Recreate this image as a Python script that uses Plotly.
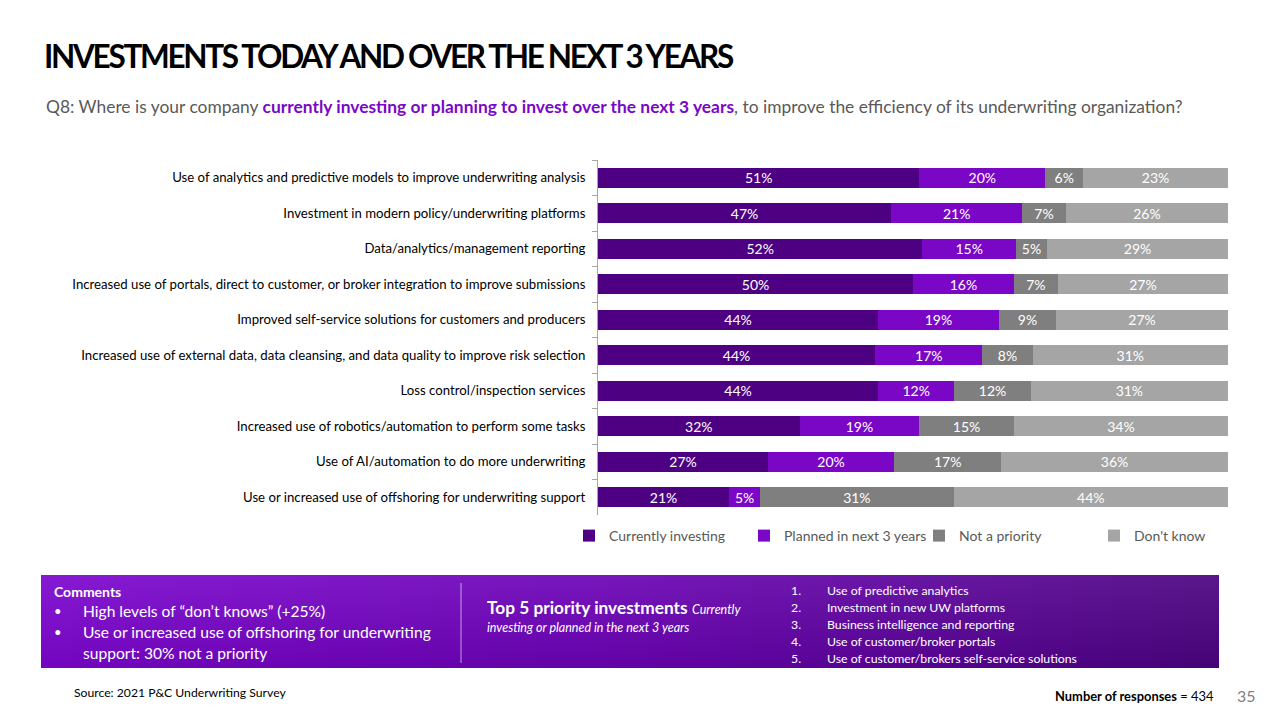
import base64
import plotly.graph_objects as go

categories = [
    "Use of analytics and predictive models to improve underwriting analysis",
    "Investment in modern policy/underwriting platforms",
    "Data/analytics/management reporting",
    "Increased use of portals, direct to customer, or broker integration to improve submissions",
    "Improved self-service solutions for customers and producers",
    "Increased use of external data, data cleansing, and data quality to improve risk selection",
    "Loss control/inspection services",
    "Increased use of robotics/automation to perform some tasks",
    "Use of AI/automation to do more underwriting",
    "Use or increased use of offshoring for underwriting support",
]
currently_investing = [51, 47, 52, 50, 44, 44, 44, 32, 27, 21]
planned_3_years = [20, 21, 15, 16, 19, 17, 12, 19, 20, 5]
not_a_priority = [6, 7, 5, 7, 9, 8, 12, 15, 17, 31]
dont_know = [23, 26, 29, 27, 27, 31, 31, 34, 36, 44]

series = [
    ("Currently investing", currently_investing, "#4d0182"),
    ("Planned in next 3 years", planned_3_years, "#7a07c6"),
    ("Not a priority", not_a_priority, "#7f7f7f"),
    ("Don't know", dont_know, "#a5a5a5"),
]

top5 = [
    "Use of predictive analytics",
    "Investment in new UW platforms",
    "Business intelligence and reporting",
    "Use of customer/broker portals",
    "Use of customer/brokers self-service solutions",
]

TITLE = "INVESTMENTS TODAY AND OVER THE NEXT 3 YEARS"

FONT = "Lato"
# page body has an 8px margin, so the figure is drawn from (8, 8)
OX, OY = 8, 8
W, H = 1272, 712
L, R, T, B = 590, 52, 152, 205
PW, PH = W - L - R, H - T - B


def px(x):
    return (x - OX - L) / PW


def py(y):
    return (H - B - (y - OY)) / PH


fig = go.Figure()
for name, vals, col in series:
    fig.add_trace(go.Bar(
        y=categories, x=vals, name=name, orientation="h",
        marker=dict(color=col, line=dict(width=0)),
        text=[f"{v}%" for v in vals], textposition="inside",
        insidetextanchor="middle", textangle=0, constraintext="none",
        textfont=dict(family=FONT, size=14, color="white"),
    ))

fig.update_layout(
    width=W, height=H, barmode="stack", barnorm="percent", bargap=0.45,
    plot_bgcolor="white", paper_bgcolor="white",
    margin=dict(l=L, r=R, t=T, b=B),
    font=dict(family=FONT, color="#000000"),
    xaxis=dict(visible=False, range=[0, 100]),
    yaxis=dict(autorange="reversed", showline=True, linecolor="#a6a6a6",
               ticks="outside", tickson="boundaries", ticklen=5,
               tickcolor="#a6a6a6", tickfont=dict(size=13.2, color="#000000"),
               ticklabelstandoff=9),
    legend=dict(orientation="h", x=px(569), y=py(536), xanchor="left",
                yanchor="middle", font=dict(size=14, color="#595959"),
                entrywidth=130, traceorder="normal", itemwidth=30),
    showlegend=True,
)

# gradient panel behind comments
svg = ('<svg xmlns="http://www.w3.org/2000/svg" width="1178" height="93" '
       'preserveAspectRatio="none"><defs><linearGradient id="g" x1="0" y1="0" x2="1" y2="0">'
       '<stop offset="0" stop-color="#7c06cf"/><stop offset="0.5" stop-color="#6a02b4"/>'
       '<stop offset="1" stop-color="#4b0380"/></linearGradient>'
       '<linearGradient id="v" x1="0" y1="0" x2="0" y2="1">'
       '<stop offset="0" stop-color="#ffffff" stop-opacity="0.08"/>'
       '<stop offset="1" stop-color="#000000" stop-opacity="0.08"/></linearGradient></defs>'
       '<rect width="1178" height="93" fill="url(#g)"/>'
       '<rect width="1178" height="93" fill="url(#v)"/></svg>')
src = "data:image/svg+xml;base64," + base64.b64encode(svg.encode()).decode()
fig.add_layout_image(dict(source=src, xref="paper", yref="paper",
                          x=px(41), y=py(575), sizex=px(1219) - px(41),
                          sizey=py(575) - py(668), sizing="stretch",
                          xanchor="left", yanchor="top", layer="below"))
fig.add_shape(type="line", xref="paper", yref="paper",
              x0=px(461), x1=px(461), y0=py(583), y1=py(663),
              line=dict(color="rgba(255,255,255,0.6)", width=1))

ann = []


def note(x, y, text, size, color="#000000", xanchor="left", yanchor="middle", family=FONT):
    ann.append(dict(xref="paper", yref="paper", x=px(x), y=py(y), text=text,
                    showarrow=False, xanchor=xanchor, yanchor=yanchor,
                    font=dict(family=family, size=size, color=color), align="left"))


# tight, condensed-looking title
note(42, 56, f"<span style='letter-spacing:-2.3px'><b>{TITLE}</b></span>", 31.5, "#000000")
note(44, 106, "Q8: Where is your company <b><span style='color:#7a07c6'>currently investing or "
     "planning to invest over the next 3 years</span></b>, to improve the efficiency of its "
     "underwriting organization?", 17.4, "#595959")

note(52, 591, "<b>Comments</b>", 14, "white")
for i, t in enumerate(["High levels of \u201cdon\u2019t knows\u201d (+25%)",
                       "Use or increased use of offshoring for underwriting"]):
    note(52, 611 + 21 * i, "\u2022", 13, "white")
    note(81, 611 + 21 * i, t, 15.6, "white")
note(81, 653, "support: 30% not a priority", 15.6, "white")

note(485, 607, "<b>Top 5 priority investments</b> <i><span style='font-size:12.5px'>Currently</span></i>",
     17.3, "white")
note(485, 627, "<i>investing or planned in the next 3 years</i>", 12.5, "white")

for i, t in enumerate(top5):
    note(789, 590 + 17 * i, f"{i + 1}.", 12.3, "white")
    note(825, 590 + 17 * i, t, 12.3, "white")

note(72, 692, "Source: 2021 P&C Underwriting Survey", 12.2, "#000000")
note(1216, 696, "<b>Number of responses</b> = 434", 12.9, "#000000", xanchor="right")
note(1235, 695, "35", 16, "#7f7f7f")

fig.update_layout(annotations=ann)

fig.write_html("out.html")
